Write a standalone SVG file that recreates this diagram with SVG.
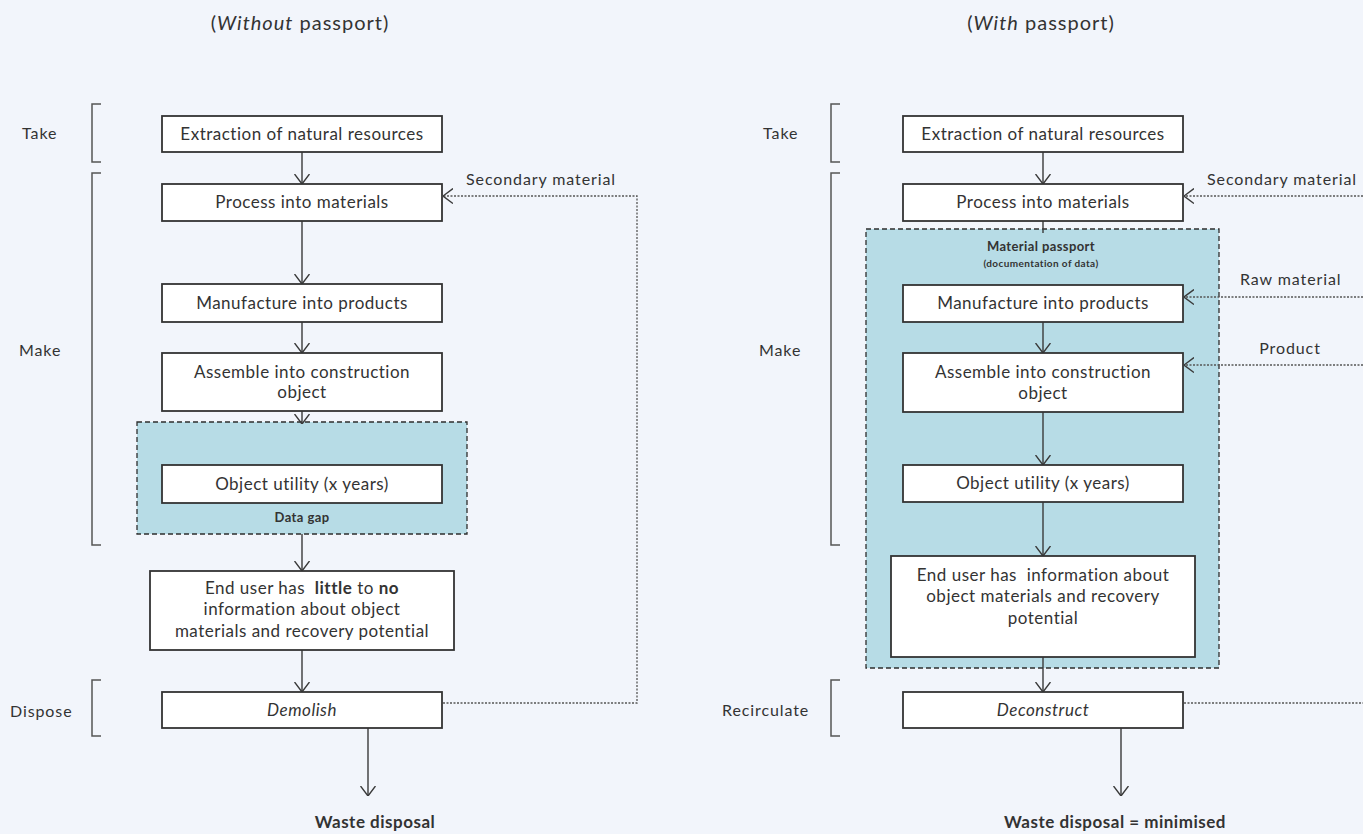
<svg xmlns="http://www.w3.org/2000/svg" width="1363" height="834" viewBox="0 0 1363 834">
  <defs>
    <style>
      text { font-family: Lato, "Open Sans", "Liberation Sans", sans-serif; fill: #333; }
      .box { fill: #ffffff; stroke: #333; stroke-width: 1.8; }
      .zone { fill: #b7dce6; stroke: #2e2e2e; stroke-width: 1.3; stroke-dasharray: 5 3; }
      .bracket { fill: none; stroke: #555; stroke-width: 1.5; }
      .flow { fill: none; stroke: #3a3a3a; stroke-width: 1.4; marker-end: url(#head); }
      .plain { fill: none; stroke: #3a3a3a; stroke-width: 1.4; }
      .loop { fill: none; stroke: #555; stroke-width: 1.3; stroke-dasharray: 2 1.5; }
      .loopArrow { fill: none; stroke: #555; stroke-width: 1.3; stroke-dasharray: 2 1.5; marker-end: url(#head); }
      .lbl { font-size: 16px; letter-spacing: 0.9px; }
      .node { font-size: 17px; letter-spacing: 0.5px; text-anchor: middle; }
      .title { font-size: 20px; letter-spacing: 1px; text-anchor: middle; }
      .small { font-size: 13px; font-weight: bold; letter-spacing: 0.4px; text-anchor: middle; }
      .waste { font-size: 17px; font-weight: bold; letter-spacing: 0.5px; text-anchor: middle; }
    </style>
    <marker id="head" viewBox="0 0 10 16" refX="10" refY="8" markerWidth="10" markerHeight="16" markerUnits="userSpaceOnUse" orient="auto">
      <path d="M0,0.5 L10,8 L0,15.5" fill="none" stroke="#3a3a3a" stroke-width="1.4"/>
    </marker>
  </defs>

  <rect width="1363" height="834" fill="#f2f5fb"/>

  <!-- Headings -->
  <text class="title" x="300" y="30">(<tspan font-style="italic">Without</tspan> passport)</text>
  <text class="title" x="1041" y="30">(<tspan font-style="italic">With</tspan> passport)</text>

  <!-- Phase labels and brackets, left -->
  <g id="phases-left">
    <text class="lbl" x="22" y="139">Take</text>
    <path class="bracket" d="M101,104 H92 V162 H101"/>
    <text class="lbl" x="19" y="356">Make</text>
    <path class="bracket" d="M101,173 H92 V545 H101"/>
    <text class="lbl" x="10" y="717">Dispose</text>
    <path class="bracket" d="M101,680 H92 V736 H101"/>
  </g>

  <!-- Phase labels and brackets, right -->
  <g id="phases-right">
    <text class="lbl" x="763" y="139">Take</text>
    <path class="bracket" d="M840,104 H831 V162 H840"/>
    <text class="lbl" x="759" y="356">Make</text>
    <path class="bracket" d="M840,173 H831 V545 H840"/>
    <text class="lbl" x="722" y="716">Recirculate</text>
    <path class="bracket" d="M840,680 H831 V736 H840"/>
  </g>

  <!-- Shaded zones -->
  <g id="data-gap">
    <rect class="zone" x="137" y="422" width="330" height="112"/>
    <text class="small" x="302" y="522">Data gap</text>
  </g>
  <g id="material-passport">
    <rect class="zone" x="866" y="229" width="353" height="439"/>
    <text class="small" x="1041" y="251">Material passport</text>
    <text class="small" x="1041" y="267" style="font-size:10px">(documentation of data)</text>
  </g>

  <!-- Connectors -->
  <g id="connectors">
    <line class="flow" x1="302" y1="152" x2="302" y2="184"/>
    <line class="flow" x1="302" y1="221" x2="302" y2="284"/>
    <line class="flow" x1="302" y1="322" x2="302" y2="353"/>
    <line class="flow" x1="302" y1="411" x2="302" y2="424"/>
    <line class="flow" x1="302" y1="534" x2="302" y2="571"/>
    <line class="flow" x1="302" y1="650" x2="302" y2="692"/>
    <line class="flow" x1="368" y1="728" x2="368" y2="796"/>
    <polyline class="loopArrow" points="443,703 637,703 637,196 443,196"/>

    <line class="flow" x1="1043" y1="152" x2="1043" y2="184"/>
    <line class="plain" x1="1043" y1="221" x2="1043" y2="233"/>
    <line class="flow" x1="1043" y1="322" x2="1043" y2="353"/>
    <line class="flow" x1="1043" y1="412" x2="1043" y2="465"/>
    <line class="flow" x1="1043" y1="502" x2="1043" y2="556"/>
    <line class="flow" x1="1043" y1="657" x2="1043" y2="692"/>
    <line class="flow" x1="1121" y1="728" x2="1121" y2="796"/>
    <line class="loopArrow" x1="1363" y1="196" x2="1184" y2="196"/>
    <line class="loopArrow" x1="1363" y1="297" x2="1184" y2="297"/>
    <line class="loopArrow" x1="1363" y1="365" x2="1184" y2="365"/>
    <line class="loop" x1="1184" y1="703" x2="1363" y2="703"/>
  </g>

  <!-- Flow labels -->
  <text class="lbl" x="466" y="185">Secondary material</text>
  <text class="lbl" x="1207" y="185">Secondary material</text>
  <text class="lbl" x="1240" y="285">Raw material</text>
  <text class="lbl" x="1290" y="354" text-anchor="middle">Product</text>

  <!-- Left chain: without passport -->
  <g id="L-extraction">
    <rect class="box" x="162" y="116" width="280" height="36"/>
    <text class="node" x="302" y="140">Extraction of natural resources</text>
  </g>
  <g id="L-process">
    <rect class="box" x="162" y="184" width="280" height="37"/>
    <text class="node" x="302" y="208">Process into materials</text>
  </g>
  <g id="L-manufacture">
    <rect class="box" x="162" y="284" width="280" height="38"/>
    <text class="node" x="302" y="309">Manufacture into products</text>
  </g>
  <g id="L-assemble">
    <rect class="box" x="162" y="353" width="280" height="58"/>
    <text class="node" x="302" y="378">Assemble into construction</text>
    <text class="node" x="302" y="398">object</text>
  </g>
  <g id="L-utility">
    <rect class="box" x="162" y="465" width="280" height="38"/>
    <text class="node" x="302" y="490">Object utility (x years)</text>
  </g>
  <g id="L-enduser">
    <rect class="box" x="150" y="571" width="304" height="79"/>
    <text class="node" x="302" y="594" xml:space="preserve">End user has  <tspan font-weight="bold">little</tspan> to <tspan font-weight="bold">no</tspan></text>
    <text class="node" x="302" y="615">information about object</text>
    <text class="node" x="302" y="637">materials and recovery potential</text>
  </g>
  <g id="L-demolish">
    <rect class="box" x="162" y="692" width="280" height="36"/>
    <text class="node" x="302" y="716" font-style="italic">Demolish</text>
  </g>
  <text class="waste" x="375" y="828">Waste disposal</text>

  <!-- Right chain: with passport -->
  <g id="R-extraction">
    <rect class="box" x="903" y="116" width="280" height="36"/>
    <text class="node" x="1043" y="140">Extraction of natural resources</text>
  </g>
  <g id="R-process">
    <rect class="box" x="903" y="184" width="280" height="37"/>
    <text class="node" x="1043" y="208">Process into materials</text>
  </g>
  <g id="R-manufacture">
    <rect class="box" x="903" y="285" width="280" height="37"/>
    <text class="node" x="1043" y="309">Manufacture into products</text>
  </g>
  <g id="R-assemble">
    <rect class="box" x="903" y="353" width="280" height="59"/>
    <text class="node" x="1043" y="378">Assemble into construction</text>
    <text class="node" x="1043" y="399">object</text>
  </g>
  <g id="R-utility">
    <rect class="box" x="903" y="465" width="280" height="37"/>
    <text class="node" x="1043" y="489">Object utility (x years)</text>
  </g>
  <g id="R-enduser">
    <rect class="box" x="891" y="556" width="304" height="101"/>
    <text class="node" x="1043" y="581" xml:space="preserve">End user has  information about</text>
    <text class="node" x="1043" y="602">object materials and recovery</text>
    <text class="node" x="1043" y="624">potential</text>
  </g>
  <g id="R-deconstruct">
    <rect class="box" x="903" y="692" width="280" height="36"/>
    <text class="node" x="1043" y="716" font-style="italic">Deconstruct</text>
  </g>
  <text class="waste" x="1115" y="828">Waste disposal = minimised</text>
</svg>
